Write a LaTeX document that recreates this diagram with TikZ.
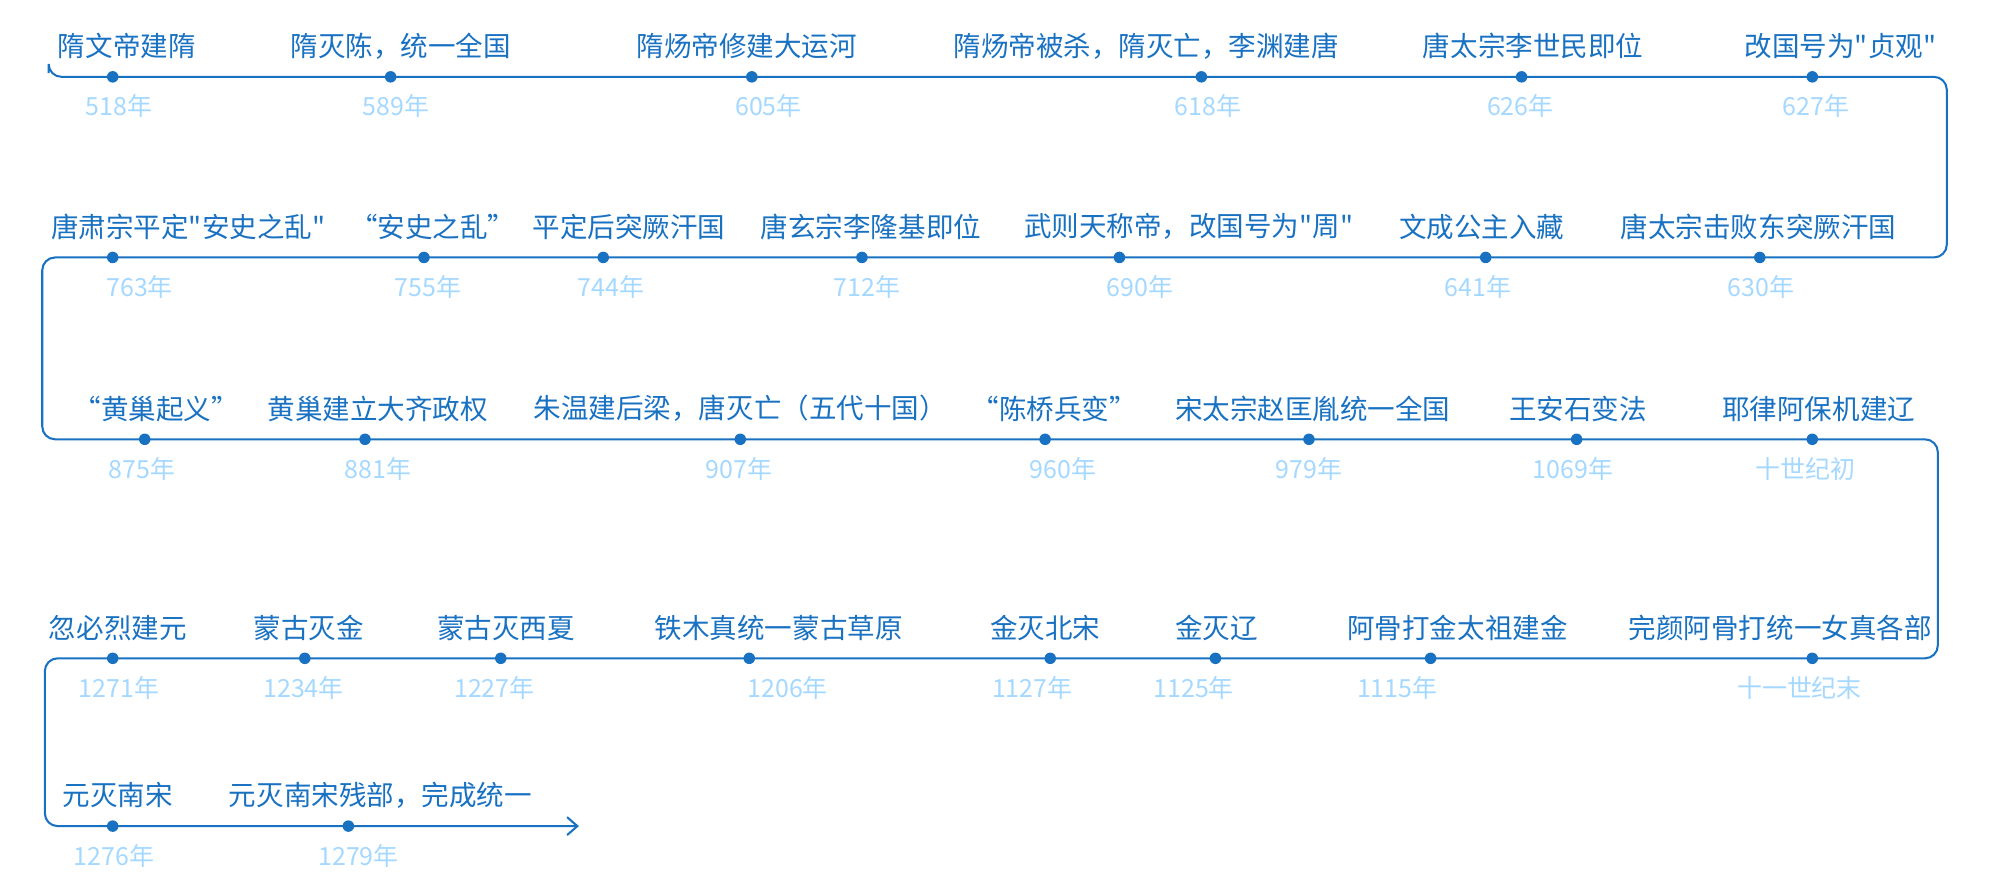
\documentclass[tikz,border=0pt]{standalone}
\usetikzlibrary{arrows.meta}
\usepackage{fontspec}
\newfontfamily\cjk{Noto Sans CJK SC}
\begin{document}
\begin{tikzpicture}[x=1pt,y=-1pt,
  lbl/.style={font=\cjk\fontsize{21.5}{21.5}\selectfont,text=lineblue,inner sep=0pt},
  yr/.style={font=\cjk\fontsize{19.5}{19.5}\selectfont,text=yearblue,inner sep=0pt},
  dot/.style={circle,fill=lineblue,inner sep=0pt,minimum size=9pt}]
\definecolor{lineblue}{HTML}{1971C2}
\definecolor{yearblue}{HTML}{A5D8FF}
\useasboundingbox (0,0) rectangle (1560,694);
\coordinate (s) at (38,57);
\coordinate (c1) at (1520,60);
\coordinate (c2) at (1520,201);
\coordinate (c3) at (33,201);
\coordinate (c4) at (33,343);
\coordinate (c5) at (1513,343);
\coordinate (c6) at (1513,514);
\coordinate (c7) at (35,514);
\coordinate (c8) at (35,645);
\coordinate (e) at (452,645);
\draw[lineblue,line width=1.6pt,rounded corners=10pt,-{Straight Barb[length=8pt,width=14pt]}]
  (s) -- (38,60) -- (c1) -- (c2) -- (c3) -- (c4) -- (c5) -- (c6) -- (c7) -- (c8) -- (e);
\foreach \n/\x/\y/\t/\tx/\yy/\yx in {
 a1/88/60/隋文帝建隋/99/518年/93,
 a2/305/60/隋灭陈，统一全国/313/589年/309,
 a3/587/60/隋炀帝修建大运河/583/605年/600,
 a4/938/60/隋炀帝被杀，隋灭亡，李渊建唐/895/618年/943,
 a5/1188/60/唐太宗李世民即位/1197/626年/1187,
 a6/1415/60/改国号为"贞观"/1437/627年/1418,
 b1/88/201/唐肃宗平定"安史之乱"/147/763年/109,
 b2/331/201/“安史之乱”/338/755年/334,
 b3/471/201/平定后突厥汗国/491/744年/477,
 b4/673/201/唐玄宗李隆基即位/680/712年/677,
 b5/874/201/武则天称帝，改国号为"周"/928/690年/890,
 b6/1160/201/文成公主入藏/1157/641年/1154,
 b7/1374/201/唐太宗击败东突厥汗国/1373/630年/1375,
 d1/113/343/“黄巢起义”/122/875年/111,
 d2/285/343/黄巢建立大齐政权/295/881年/295,
 d3/578/343/朱温建后梁，唐灭亡（五代十国）/578/907年/577,
 d4/816/343/“陈桥兵变”/823/960年/830,
 d5/1022/343/宋太宗赵匡胤统一全国/1025/979年/1022,
 d6/1231/343/王安石变法/1232/1069年/1228,
 d7/1415/343/耶律阿保机建辽/1420/十世纪初/1410,
 f1/88/514/忽必烈建元/92/1271年/93,
 f2/238/514/蒙古灭金/241/1234年/237,
 f3/391/514/蒙古灭西夏/395/1227年/386,
 f4/585/514/铁木真统一蒙古草原/608/1206年/615,
 f5/820/514/金灭北宋/816/1127年/806,
 f6/949/514/金灭辽/950/1125年/932,
 f7/1117/514/阿骨打金太祖建金/1138/1115年/1091,
 f8/1415/514/完颜阿骨打统一女真各部/1390/十一世纪末/1405,
 g1/88/645/元灭南宋/92/1276年/89,
 g2/272/645/元灭南宋残部，完成统一/297/1279年/280}
{
 \node[dot] (\n) at (\x,\y) {};
 \node[lbl] (\n t) at (\tx,\y-24) {\t};
 \node[yr] (\n y) at (\yx,\y+23) {\yy};
}
\end{tikzpicture}
\end{document}
